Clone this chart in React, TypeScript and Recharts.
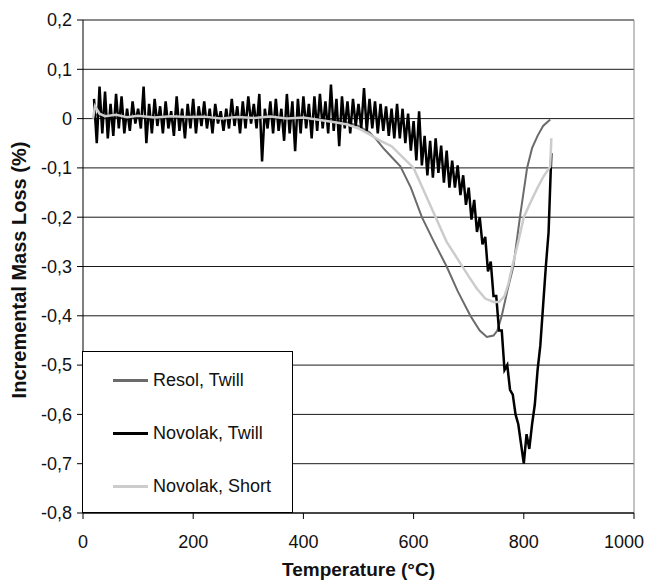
import { CartesianGrid, Label, Legend, Line, LineChart, ReferenceLine, XAxis, YAxis } from 'recharts'

// Resol, Twill (dark grey)
const resolTemp = [20, 30, 50, 100, 150, 200, 250, 300, 350, 400, 450, 480, 500, 520, 533, 545, 560, 576, 595, 615, 637, 660, 680, 703, 720, 733, 745, 752, 760, 770, 781, 793, 806, 815, 825, 835, 848]
const resolLoss = [0.01, 0.005, 0.003, 0.004, 0.002, 0.003, 0.001, 0.002, 0, 0, -0.003, -0.008, -0.015, -0.028, -0.043, -0.06, -0.078, -0.097, -0.14, -0.2, -0.25, -0.3, -0.35, -0.4, -0.43, -0.443, -0.44, -0.43, -0.4, -0.35, -0.3, -0.2, -0.1, -0.06, -0.035, -0.015, -0.002]

// Novolak, Twill (black, noisy) - one reading every 5 degC from 20 to 850
const twillStart = 20
const twillStep = 5
const twillLoss = [
  0.04, -0.05, 0.065, -0.03, 0.055, -0.04, 0.03, -0.035, 0.05, -0.02,
  0.045, -0.03, 0.02, -0.025, 0.035, -0.01, 0.02, -0.02, 0.065, -0.05,
  0.03, -0.03, 0.04, -0.015, 0.025, -0.03, 0.035, -0.02, 0.015, -0.035,
  0.045, -0.025, 0.02, -0.04, 0.03, -0.02, 0.04, -0.03, 0.025, -0.015,
  0.035, -0.02, 0.02, -0.03, 0.03, -0.01, 0.015, -0.025, 0.02, -0.02,
  0.04, -0.015, 0.025, -0.03, 0.035, -0.02, 0.045, -0.01, 0.03, -0.02,
  0.05, -0.087, 0.02, -0.02, 0.035, -0.03, 0.04, -0.025, 0.02, -0.045,
  0.05, -0.03, 0.035, -0.066, 0.04, -0.03, 0.045, -0.02, 0.03, -0.04,
  0.045, -0.025, 0.05, -0.02, 0.035, -0.03, 0.069, -0.025, 0.04, -0.056,
  0.045, -0.02, 0.035, -0.03, 0.04, -0.015, 0.03, -0.02, 0.062, -0.025,
  0.04, -0.02, 0.035, -0.03, 0.03, -0.025, 0.025, -0.035, 0.02, -0.04,
  0.03, -0.04, 0.02, -0.05, 0.01, -0.065, -0.005, -0.085, 0.015, -0.095,
  -0.035, -0.115, -0.045, -0.12, -0.04, -0.11, -0.055, -0.13, -0.065, -0.14,
  -0.085, -0.14, -0.095, -0.155, -0.115, -0.175, -0.14, -0.205, -0.165, -0.23,
  -0.2, -0.255, -0.24, -0.31, -0.29, -0.36, -0.36, -0.43, -0.43, -0.51,
  -0.5, -0.55, -0.56, -0.6, -0.62, -0.66, -0.7, -0.64, -0.67, -0.62,
  -0.58, -0.51, -0.46, -0.38, -0.3, -0.23, -0.07,
]

// Novolak, Short (light grey)
const shortTemp = [18, 22, 30, 40, 60, 80, 100, 130, 160, 190, 220, 250, 280, 310, 340, 370, 400, 430, 460, 480, 500, 520, 540, 560, 580, 600, 620, 640, 660, 680, 700, 715, 730, 745, 755, 765, 772, 779, 790, 800, 812, 825, 836, 848, 850]
const shortLoss = [0, 0.025, 0.01, 0.005, 0.008, 0.003, 0.006, 0.002, 0.005, 0.003, 0.004, 0, 0.003, 0.001, 0.004, 0, 0.002, -0.003, -0.008, -0.012, -0.02, -0.032, -0.045, -0.056, -0.078, -0.1, -0.15, -0.2, -0.25, -0.285, -0.32, -0.345, -0.365, -0.372, -0.372, -0.36, -0.335, -0.3, -0.25, -0.2, -0.17, -0.14, -0.117, -0.097, -0.04]

const xTicks = [0, 200, 400, 600, 800, 1000]
const yTicks = [-0.8, -0.7, -0.6, -0.5, -0.4, -0.3, -0.2, -0.1, 0, 0.1, 0.2]

const resolData = resolTemp.map((t, i) => ({ t, v: resolLoss[i] }))
const twillData = twillLoss.map((v, i) => ({ t: twillStart + i * twillStep, v }))
const shortData = shortTemp.map((t, i) => ({ t, v: shortLoss[i] }))

const series = [
  { name: 'Resol, Twill', color: '#6b6b6b' },
  { name: 'Novolak, Twill', color: '#000000' },
  { name: 'Novolak, Short', color: '#cccccc' },
]

const font = '"Liberation Sans", Arial, sans-serif'
const chartWidth = 637
const chartHeight = 572

function LegendBox() {
  return (
    <div
      style={{
        width: 211,
        height: 162,
        border: '1px solid #000',
        background: '#fff',
        boxSizing: 'border-box',
        position: 'relative',
        fontFamily: font,
        fontSize: 18,
        color: '#111',
      }}
    >
      {series.map((s, i) => (
        <div
          key={s.name}
          style={{ position: 'absolute', left: 30, top: 16 + i * 53, height: 24, display: 'flex', alignItems: 'center', whiteSpace: 'nowrap' }}
        >
          <span style={{ display: 'inline-block', width: 35, borderTop: `3px solid ${s.color}` }} />
          <span style={{ marginLeft: 5 }}>{s.name}</span>
        </div>
      ))}
    </div>
  )
}

// keeps the "1000" label inside the picture instead of running off the right edge
function XTick({ x, y, payload }: any) {
  const label = String(payload.value)
  const half = label.length * 5
  const cx = Math.min(x, chartWidth - 1 - half)
  return (
    <text x={cx} y={y} dy='0.71em' textAnchor='middle' fill='#111' fontSize={18} fontFamily={font}>
      {label}
    </text>
  )
}

const yTitle = () => (
  <text
    x={18}
    y={262}
    transform='rotate(-90 18 262)'
    textAnchor='middle'
    fontFamily={font}
    fontSize={20}
    fontWeight='bold'
    fill='#111'
  >
    Incremental Mass Loss (%)
  </text>
)

export default function App() {
  return (
    <LineChart width={chartWidth} height={chartHeight} margin={{ top: 12, right: 11, left: 0, bottom: 0 }}>
      <CartesianGrid vertical={false} stroke='#000' strokeOpacity={0.9} />
      <XAxis
        type='number'
        dataKey='t'
        domain={[0, 1000]}
        ticks={xTicks}
        height={67}
        stroke='#000'
        tickSize={6}
        tickMargin={16}
        tick={XTick}
      >
        <Label
          value='Temperature (°C)'
          position='insideBottom'
          offset={4}
          style={{ fontFamily: font, fontSize: 19, fontWeight: 'bold', fill: '#111' }}
        />
      </XAxis>
      <YAxis
        type='number'
        domain={[-0.8, 0.2]}
        ticks={yTicks}
        width={75}
        stroke='#000'
        tickSize={6}
        tickMargin={5}
        interval={0}
        tick={{ fill: '#111', fontSize: 18, fontFamily: font }}
        tickFormatter={(v: number) => (v === 0 ? '0' : String(v).replace('.', ','))}
      >
        <Label content={yTitle} />
      </YAxis>
      <ReferenceLine y={0.2} stroke='#888' />
      <ReferenceLine x={1000} stroke='#888' />
      <Line data={resolData} dataKey='v' name='Resol, Twill' stroke='#6b6b6b' strokeWidth={2} dot={false} isAnimationActive={false} />
      <Line data={twillData} dataKey='v' name='Novolak, Twill' stroke='#000' strokeWidth={2.5} dot={false} isAnimationActive={false} />
      <Line data={shortData} dataKey='v' name='Novolak, Short' stroke='#cccccc' strokeWidth={2.5} dot={false} isAnimationActive={false} />
      <Legend
        layout='horizontal'
        align='center'
        verticalAlign='middle'
        content={() => <LegendBox />}
        wrapperStyle={{ left: 74, top: 343, width: 211, height: 162 }}
      />
    </LineChart>
  )
}
